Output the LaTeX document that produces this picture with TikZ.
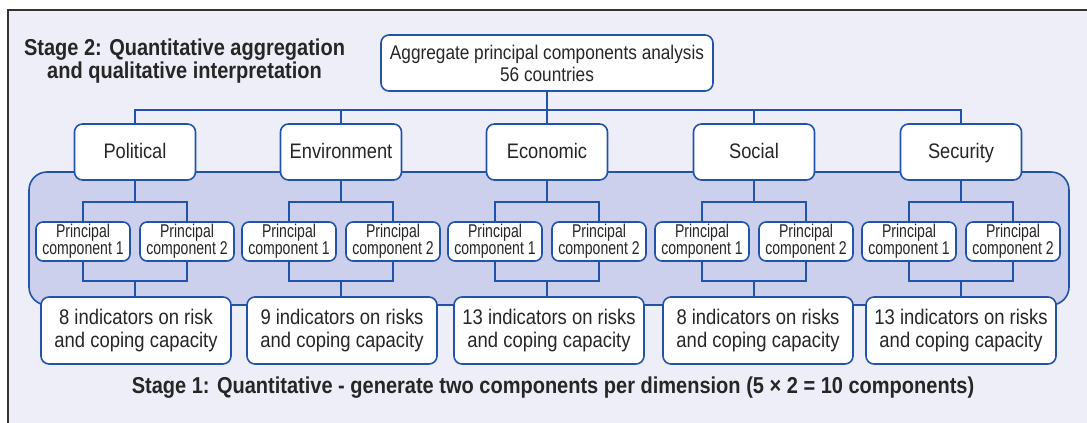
\documentclass[tikz,border=0pt]{standalone}
\usepackage{fontspec}
\setmainfont{Liberation Sans}[FakeStretch=0.87]
\newfontfamily\pcfont{Liberation Sans}[FakeStretch=0.76]
\usetikzlibrary{calc}
\definecolor{bgcol}{HTML}{EEEEF8}
\definecolor{panelcol}{HTML}{CDD0EC}
\definecolor{linecol}{HTML}{2153AA}
\definecolor{txtcol}{HTML}{262626}

\begin{document}
\begin{tikzpicture}[x=1pt,y=-1pt]
        \tikzset{box/.style = {draw=linecol,fill=white,line width=1.6pt,rounded corners=8pt,text=txtcol,inner sep=0pt,align=center}}
        \tikzset{dimbox/.style = {box,minimum width=121pt,minimum height=56pt,text height=16pt,text depth=2.4pt,font=\fontsize{21}{24}\selectfont}}
        \tikzset{pcbox/.style = {box,minimum width=94pt,minimum height=39pt,rounded corners=7pt,font=\pcfont\fontsize{18.5}{17}\selectfont}}
        \tikzset{indbox/.style = {box,minimum width=190pt,minimum height=67pt,font=\fontsize{21.2}{22.5}\selectfont}}
        \tikzset{link/.style = {draw=linecol,line width=1.6pt}}
        \tikzset{title/.style = {text=txtcol,align=center}}

        \useasboundingbox (0,0) rectangle (1087,423);
        \clip (0,0) rectangle (1087,423);
        \fill[white] (0,0) rectangle (1087,423);
        \draw[fill=bgcol,draw=black!80,line width=2pt] (8,10) rectangle (1110,440);

        % stage 2
        \node[box,minimum width=332pt,minimum height=56pt,font=\fontsize{19.8}{22}\selectfont] (agg) at (547,63) {Aggregate principal components analysis\\56 countries};
        \node[title,font=\bfseries\fontsize{23}{23.5}\selectfont] (stagetwo) at (184.5,61) {Stage 2: Quantitative aggregation\\and qualitative interpretation};

        \draw[link,fill=panelcol,rounded corners=18pt] (29,172) rectangle (1069,305);

        \coordinate (bus) at (0,110);
        \coordinate (pcbus) at (0,202);
        \coordinate (join) at (0,281);

        \foreach \name/\xpos/\dimtext/\xind/\indtext in {
            pol/135/Political/136/{8 indicators on risk},
            env/341/Environment/342/{9 indicators on risks},
            eco/547/Economic/549/{13 indicators on risks},
            soc/754/Social/758/{8 indicators on risks},
            sec/961/Security/961/{13 indicators on risks}}
        {
            \node[dimbox] (\name) at (\xpos,152) {\dimtext};
            \node[pcbox] (\name-a) at (\xpos-52,241.5) {Principal\\component 1};
            \node[pcbox] (\name-b) at (\xpos+52,241.5) {Principal\\component 2};
            \node[indbox] (\name-i) at (\xind,330.5) {\indtext\\and coping capacity};

            \draw[link] (agg.south) -- (agg.south |- bus) -| (\name.north);
            \draw[link] (\name.south) -- (\name.south |- pcbus) coordinate (\name-t);
            \draw[link] (\name-a.north) |- (\name-t) -| (\name-b.north);
            \draw[link] (\name-a.south) |- (\name.south |- join) coordinate (\name-j) -| (\name-b.south);
            \draw[link] (\name-j) -- (\name-j |- \name-i.north);
        }

        % stage 1
        \node[title,font=\bfseries\fontsize{23}{24}\selectfont] (stageone) at (553,388) {Stage 1: Quantitative - generate two components per dimension (5 × 2 = 10 components)};
\end{tikzpicture}
\end{document}
